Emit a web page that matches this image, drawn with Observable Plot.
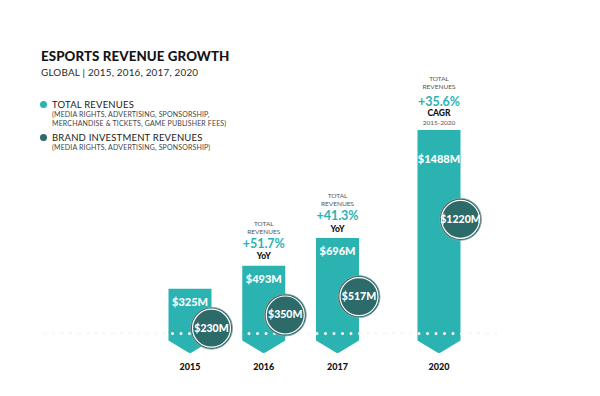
<!DOCTYPE html>
<html>
<head>
<meta charset="utf-8">
<script src="https://cdn.jsdelivr.net/npm/d3@7"></script>
<script src="https://cdn.jsdelivr.net/npm/@observablehq/plot@0.6"></script>
<style>
  html, body { margin: 0; padding: 0; background: #fff; }
  #wrap { position: relative; width: 600px; height: 396px; font-family: Lato, "Open Sans", sans-serif; }
  #wrap svg { position: absolute; left: 0; top: 0; }
  .abs { position: absolute; white-space: nowrap; line-height: 1; }
  .title { left: 41px; top: 50px; font-size: 13.3px; font-weight: 900; color: #151515; letter-spacing: 0.1px; }
  .sub { left: 41px; top: 67.5px; font-size: 9.9px; color: #2a2a2a; letter-spacing: 0.2px; }
  .lg { left: 52px; font-size: 9.5px; color: #1a1a1a; letter-spacing: 0.2px; }
  .lgs { left: 52px; font-size: 7px; color: #444; letter-spacing: 0.15px; line-height: 8.5px; }
  .dot { position: absolute; width: 7px; height: 7px; border-radius: 50%; }
</style>
</head>
<body>
<div id="wrap">
  <div class="abs title">ESPORTS REVENUE GROWTH</div>
  <div class="abs sub">GLOBAL | 2015, 2016, 2017, 2020</div>
  <div class="dot" style="left:40px;top:101px;background:#2bb3b1"></div>
  <div class="abs lg" style="top:100px">TOTAL REVENUES</div>
  <div class="abs lgs" style="top:110px">(MEDIA RIGHTS, ADVERTISING, SPONSORSHIP,<br>MERCHANDISE &amp; TICKETS, GAME PUBLISHER FEES)</div>
  <div class="dot" style="left:40px;top:134px;background:#2d6a6a"></div>
  <div class="abs lg" style="top:133px">BRAND INVESTMENT REVENUES</div>
  <div class="abs lgs" style="top:143px">(MEDIA RIGHTS, ADVERTISING, SPONSORSHIP)</div>
</div>
<script>
const years = [2015, 2016, 2017, 2020];
const totalRevenue = [325, 493, 696, 1488];
const brandRevenue = [230, 350, 517, 1220];
const growthRate = [null, "+51.7%", "+41.3%", "+35.6%"];
const growthBasis = [null, "YoY", "YoY", "CAGR"];
const growthPeriod = [null, null, null, "2015-2020"];

const data = years.map((year, i) => ({
  year,
  total: totalRevenue[i],
  brand: brandRevenue[i],
  rate: growthRate[i],
  basis: growthBasis[i],
  period: growthPeriod[i]
}));

const TEAL = "#2bb3b1";
const DARK = "#2d6a6a";
const FONT = "Lato, 'Open Sans', sans-serif";

// arrow tip below the baseline
const arrowTip = {
  draw(ctx) {
    ctx.moveTo(-21.5, -1);
    ctx.lineTo(21.5, -1);
    ctx.lineTo(21.5, 7);
    ctx.lineTo(2.5, 18.5);
    ctx.quadraticCurveTo(0, 20.5, -2.5, 18.5);
    ctx.lineTo(-21.5, 7);
    ctx.closePath();
  }
};

const yoy = data.filter(d => d.basis === "YoY");
const cagr = data.filter(d => d.basis === "CAGR");
const early = data.filter(d => d.basis !== "CAGR");

const chart = Plot.plot({
  width: 600,
  height: 396,
  marginLeft: 45,
  marginRight: 100,
  marginTop: 0,
  marginBottom: 0,
  style: {fontFamily: FONT, background: "transparent", overflow: "visible"},
  x: {type: "linear", domain: [2015, 2017, 2020], range: [189.5, 337, 438.5], axis: null},
  y: {domain: [0, 1500], range: [333, 128.25], axis: null},
  marks: [
    Plot.ruleY([0], {stroke: "#cccccc", strokeWidth: 3, strokeDasharray: "0,8.5", strokeLinecap: "round"}),
    Plot.ruleX(data, {x: "year", y1: 0, y2: "total", stroke: TEAL, strokeWidth: 43}),
    Plot.dot(data, {x: "year", y: 0, symbol: arrowTip, fill: TEAL, r: 5}),
    Plot.ruleY([0], {stroke: "#ffffff", strokeWidth: 3, strokeDasharray: "0,8.5", strokeLinecap: "round"}),
    // total value labels inside bars
    Plot.text(early, {x: "year", y: "total", text: d => `$${d.total}M`, dy: 13, fill: "#fff", fontSize: 11, fontWeight: 900}),
    Plot.text(cagr, {x: "year", y: "total", text: d => `$${d.total}M`, dy: 29, fill: "#fff", fontSize: 11, fontWeight: 900}),
    // brand circles
    Plot.dot(data, {x: "year", y: d => d.brand * 0.806, dx: 21.5, dy: 20, r: 21, fill: DARK, stroke: "#8aa5a5", strokeWidth: 0.8}),
    Plot.dot(data, {x: "year", y: d => d.brand * 0.806, dx: 21.5, dy: 20, r: 19, fill: "none", stroke: "#ffffff", strokeWidth: 1.2}),
    Plot.text(data, {x: "year", y: d => d.brand * 0.806, dx: 21.5, dy: 20, text: d => `$${d.brand}M`, fill: "#fff", fontSize: 10.5, fontWeight: 900}),
    // growth annotations (YoY)
    Plot.text(yoy, {x: "year", y: "total", text: () => "TOTAL", dy: -42.5, fill: "#555", fontSize: 6.5}),
    Plot.text(yoy, {x: "year", y: "total", text: () => "REVENUES", dy: -34.5, fill: "#555", fontSize: 6.5}),
    Plot.text(yoy, {x: "year", y: "total", text: "rate", dy: -22.5, fill: TEAL, fontSize: 12.5, fontWeight: 700}),
    Plot.text(yoy, {x: "year", y: "total", text: "basis", dy: -9.5, fill: "#111", fontSize: 8.5, fontWeight: 900}),
    // growth annotation (CAGR)
    Plot.text(cagr, {x: "year", y: "total", text: () => "TOTAL", dy: -51, fill: "#555", fontSize: 6.5}),
    Plot.text(cagr, {x: "year", y: "total", text: () => "REVENUES", dy: -43, fill: "#555", fontSize: 6.5}),
    Plot.text(cagr, {x: "year", y: "total", text: "rate", dy: -28.5, fill: TEAL, fontSize: 12.5, fontWeight: 700}),
    Plot.text(cagr, {x: "year", y: "total", text: "basis", dy: -17, fill: "#111", fontSize: 8.5, fontWeight: 900}),
    Plot.text(cagr, {x: "year", y: "total", text: "period", dy: -7, fill: "#555", fontSize: 6.5}),
    // year labels
    Plot.text(data, {x: "year", y: 0, text: d => String(d.year), dy: 34, fill: "#111", fontSize: 9, fontWeight: 900})
  ]
});
document.getElementById("wrap").appendChild(chart);
</script>
</body>
</html>
